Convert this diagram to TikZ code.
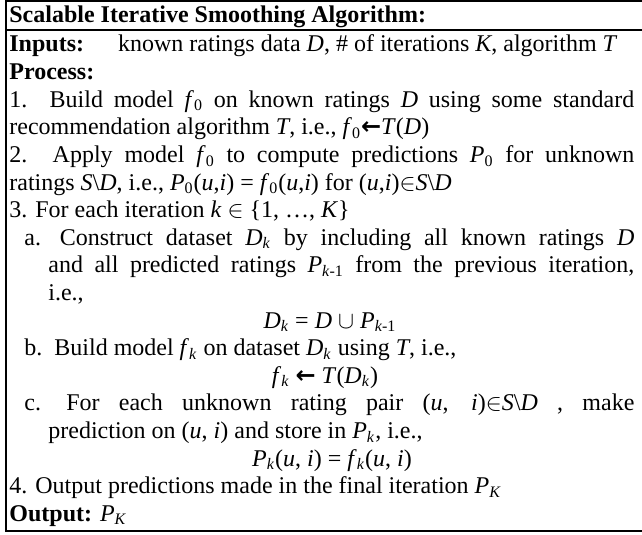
\documentclass[tikz,border=0pt]{standalone}
\usepackage{fontspec}
\setmainfont{Liberation Serif}
\newfontfamily\arrowfont{DejaVu Sans}
\newcommand\sbt[1]{\textsubscript{#1}}
\newcommand\ii[1]{\textit{#1}}
\newcommand\larr{{\arrowfont\bfseries ←}}
\newcommand\SD{\ii{S}\textbackslash\ii{D}}
\tikzset{
  txt/.style={anchor=base west, inner sep=0pt, font=\fontsize{12pt}{13.8pt}\selectfont},
  eqn/.style={anchor=base, inner sep=0pt, font=\fontsize{12pt}{13.8pt}\selectfont},
  frame/.style={line width=1pt, line cap=rect}
}
\begin{document}
\begin{tikzpicture}[x=0.5pt,y=-0.5pt]
\useasboundingbox (0,0) rectangle (642,535);
% frame
\draw[frame] (642,1) -- (5.5,1) -- (5.5,531) -- (642,531);
\draw[frame] (5.5,30) -- (642,30);
% title
\node[txt] (title) at (9,23) {\textbf{Scalable Iterative Smoothing Algorithm:}};
\node[txt] (l0) at (9,52) {\textbf{Inputs:}\hspace*{17pt}known ratings data \ii{D}, \# of iterations \ii{K}, algorithm \ii{T}};
\node[txt] (l1) at (9,79.6) {\textbf{Process:}};
\node[txt] (l2) at (9,107.2) {\makebox[312.5pt][s]{1. Build model \ii{f}\sbt{0} on known ratings \ii{D} using some standard}};
\node[txt] (l3) at (9,134.8) {recommendation algorithm \ii{T}, i.e., \ii{f}\sbt{0}\larr\ii{T}(\ii{D})};
\node[txt] (l4) at (9,162.4) {\makebox[312.5pt][s]{2. Apply model \ii{f}\sbt{0} to compute predictions \ii{P}\sbt{0} for unknown}};
\node[txt] (l5) at (9,190) {ratings \SD, i.e., \ii{P}\sbt{0}(\ii{u},\ii{i}) = \ii{f}\sbt{0}(\ii{u},\ii{i}) for (\ii{u},\ii{i})$\in$\SD};
\node[txt] (l6) at (9,217.6) {3. For each iteration \ii{k} $\in$ \{1, …, \ii{K}\}};
\node[txt] (l7) at (24,245.2) {\makebox[305pt][s]{a.\hspace*{3pt} Construct dataset \ii{D}\sbt{\ii{k}} by including all known ratings \ii{D}}};
\node[txt] (l8) at (48,272.8) {\makebox[293pt][s]{and all predicted ratings \ii{P}\sbt{\ii{k}-1} from the previous iteration,}};
\node[txt] (l9) at (48,300.4) {i.e.,};
\node[eqn] (l10) at (330,328) {\ii{D}\sbt{\ii{k}} = \ii{D} $\cup$ \ii{P}\sbt{\ii{k}-1}};
\node[txt] (l11) at (24,355.6) {b.\hspace*{6pt}Build model \ii{f}\sbt{\ii{k}} on dataset \ii{D}\sbt{\ii{k}} using \ii{T}, i.e.,};
\node[eqn] (l12) at (325,383.2) {\ii{f}\sbt{\ii{k}} \larr\ \ii{T}(\ii{D}\sbt{\ii{k}})};
\node[txt] (l13) at (24,410.8) {\makebox[305pt][s]{c.\hspace*{3pt} For each unknown rating pair (\ii{u}, \ii{i})$\in$\SD\ , make}};
\node[txt] (l14) at (48,438.4) {prediction on (\ii{u}, \ii{i}) and store in \ii{P}\sbt{\ii{k}}, i.e.,};
\node[eqn] (l15) at (332,466) {\ii{P}\sbt{\ii{k}}(\ii{u}, \ii{i}) = \ii{f}\sbt{\ii{k}}(\ii{u}, \ii{i})};
\node[txt] (l16) at (9,493.6) {4. Output predictions made in the final iteration \ii{P}\sbt{\ii{K}}};
\node[txt] (l17) at (9,521.2) {\textbf{Output:} \ii{P}\sbt{\ii{K}}};
\end{tikzpicture}
\end{document}
